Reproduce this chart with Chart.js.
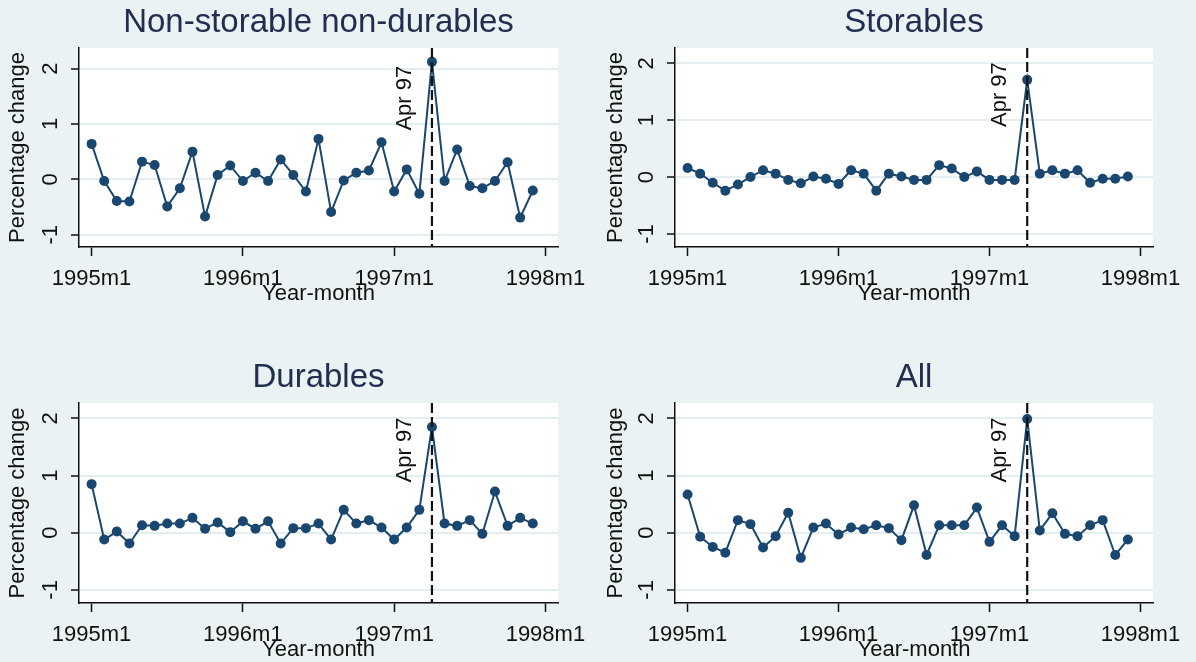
<!DOCTYPE html>
<html>
<head>
<meta charset="utf-8">
<title>Percentage change, 1995m1-1997m12</title>
<script src="https://cdn.jsdelivr.net/npm/chart.js@4.4.1/dist/chart.umd.min.js"></script>
<style>
    html, body { margin: 0; padding: 0; background: #eaf2f3; }
    #wrap { position: relative; width: 1196px; height: 662px; overflow: hidden; background: #eaf2f3; }
    #wrap canvas { position: absolute; }
</style>
</head>
<body>
<div id="wrap">
    <canvas id="chartNonStorable" width="598" height="355" style="left:0;top:0"></canvas>
    <canvas id="chartStorables" width="598" height="355" style="left:598px;top:0"></canvas>
    <canvas id="chartDurables" width="598" height="307" style="left:0;top:355px"></canvas>
    <canvas id="chartAll" width="598" height="307" style="left:598px;top:355px"></canvas>
</div>
<script>
// tick positions are month numbers counted from 1995m1
const xTickValues = [0, 12, 24, 36];
const xTickLabels = ["1995m1", "1996m1", "1997m1", "1998m1"];
const yTickValues = [-1, 0, 1, 2];
const eventMonth = 27;
const eventLabel = "Apr 97";

const nonStorable = [
    0.64, -0.03, -0.39, -0.40, 0.32, 0.26, -0.49, -0.16, 0.50, -0.67, 0.08, 0.25,
    -0.03, 0.12, -0.03, 0.36, 0.08, -0.22, 0.73, -0.59, -0.02, 0.12, 0.16, 0.67,
    -0.22, 0.18, -0.26, 2.12, -0.03, 0.54, -0.12, -0.16, -0.03, 0.31, -0.69, -0.20,
];
const storables = [
    0.16, 0.06, -0.10, -0.24, -0.13, 0.00, 0.12, 0.06, -0.05, -0.11, 0.01, -0.03,
    -0.12, 0.12, 0.06, -0.24, 0.06, 0.01, -0.05, -0.05, 0.21, 0.15, 0.00, 0.10,
    -0.05, -0.05, -0.05, 1.71, 0.06, 0.12, 0.06, 0.12, -0.10, -0.03, -0.03, 0.01,
];
const durables = [
    0.85, -0.12, 0.02, -0.19, 0.13, 0.12, 0.16, 0.16, 0.26, 0.07, 0.18, 0.01,
    0.20, 0.07, 0.20, -0.19, 0.08, 0.08, 0.16, -0.12, 0.40, 0.16, 0.22, 0.09,
    -0.12, 0.09, 0.40, 1.85, 0.16, 0.12, 0.22, -0.02, 0.72, 0.12, 0.26, 0.16,
];
const allGoods = [
    0.67, -0.07, -0.25, -0.35, 0.22, 0.15, -0.26, -0.06, 0.35, -0.44, 0.09, 0.16,
    -0.03, 0.09, 0.06, 0.13, 0.08, -0.13, 0.48, -0.39, 0.13, 0.13, 0.13, 0.44,
    -0.16, 0.13, -0.06, 1.99, 0.04, 0.34, -0.02, -0.06, 0.13, 0.22, -0.39, -0.12,
];

const FONT = "'Liberation Sans', Arial, Helvetica, sans-serif";
const NAVY = "#1a476f";

// white plot region, Apr 97 marker line and the panel title
const panelDecor = {
    id: "panelDecor",
    beforeDraw(chart) {
        const { ctx, chartArea: a } = chart;
        ctx.save();
        ctx.fillStyle = "#ffffff";
        ctx.fillRect(a.left, a.top, a.right - a.left, a.bottom - a.top);
        ctx.restore();
    },
    afterDatasetsDraw(chart) {
        const { ctx, chartArea: a, scales } = chart;
        const x = scales.x.getPixelForValue(eventMonth);
        ctx.save();
        ctx.strokeStyle = "#111111";
        ctx.lineWidth = 2.2;
        ctx.setLineDash([10, 4]);
        ctx.beginPath();
        ctx.moveTo(x, a.top);
        ctx.lineTo(x, a.bottom);
        ctx.stroke();
        ctx.setLineDash([]);

        ctx.translate(x - 21, scales.y.getPixelForValue(0.88));
        ctx.rotate(-Math.PI / 2);
        ctx.fillStyle = "#111111";
        ctx.font = "22px " + FONT;
        ctx.textAlign = "left";
        ctx.textBaseline = "alphabetic";
        ctx.fillText(eventLabel, 0, 0);
        ctx.restore();
    },
    afterDraw(chart, args, opts) {
        const { ctx, chartArea: a } = chart;
        ctx.save();
        ctx.fillStyle = "#222e50";
        ctx.font = "33px " + FONT;
        ctx.textAlign = "center";
        ctx.textBaseline = "middle";
        ctx.fillText(opts.title, (a.left + a.right) / 2, a.top - 25);
        ctx.restore();
    },
};

const getConfig = (panel) => {
    return {
        type: "line",
        data: {
            datasets: [{
                label: panel.title,
                data: panel.values.map((v, i) => ({ x: i, y: v })),
                borderColor: NAVY,
                backgroundColor: NAVY,
                borderWidth: 2,
                pointRadius: 5,
                pointBorderWidth: 0,
                pointBackgroundColor: NAVY,
                tension: 0,
            }, ],
        },
        options: {
            responsive: false,
            animation: false,
            devicePixelRatio: 1,
            layout: {
                padding: {
                    left: 0,
                    top: 48,
                    right: 598 - panel.right,
                    bottom: panel.height - panel.bottom - 58,
                },
            },
            plugins: {
                legend: { display: false },
                tooltip: { enabled: false },
                panelDecor: { title: panel.title },
            },
            scales: {
                x: {
                    type: "linear",
                    min: -1,
                    max: 37,
                    afterBuildTicks: (axis) => {
                        axis.ticks = xTickValues.map((v) => ({ value: v }));
                    },
                    afterFit: (axis) => {
                        axis.height = 58;
                    },
                    border: { color: "#111111", width: 1.5 },
                    grid: {
                        drawOnChartArea: false,
                        tickColor: "#111111",
                        tickLength: 9,
                        tickWidth: 1.5,
                    },
                    ticks: {
                        autoSkip: false,
                        maxRotation: 0,
                        padding: 10,
                        color: "#111111",
                        font: { family: FONT, size: 22 },
                        callback: (value, index) => xTickLabels[index],
                    },
                    title: {
                        display: true,
                        text: "Year-month",
                        color: "#111111",
                        font: { family: FONT, size: 22, lineHeight: 1 },
                        padding: { top: 0, bottom: 0 },
                    },
                },
                y: {
                    min: panel.yMin,
                    max: panel.yMax,
                    afterBuildTicks: (axis) => {
                        axis.ticks = yTickValues.map((v) => ({ value: v }));
                    },
                    afterFit: (axis) => {
                        axis.width = panel.left;
                    },
                    border: { color: "#111111", width: 1.5 },
                    grid: {
                        color: "#e4edef",
                        lineWidth: 2,
                        tickColor: "#111111",
                        tickLength: 8,
                        tickWidth: 1.5,
                    },
                    ticks: {
                        minRotation: 90,
                        maxRotation: 90,
                        crossAlign: "center",
                        padding: 10,
                        color: "#111111",
                        font: { family: FONT, size: 22 },
                    },
                    title: {
                        display: true,
                        text: "Percentage change",
                        color: "#111111",
                        font: { family: FONT, size: 22, lineHeight: 1 },
                        padding: { top: 7, bottom: 0 },
                    },
                },
            },
        },
        plugins: [panelDecor],
    };
};

new Chart(document.getElementById("chartNonStorable"), getConfig({
    title: "Non-storable non-durables",
    values: nonStorable,
    left: 79, right: 558, bottom: 247, height: 355,
    yMin: -1.22, yMax: 2.37,
}));
new Chart(document.getElementById("chartStorables"), getConfig({
    title: "Storables",
    values: storables,
    left: 77, right: 555, bottom: 247, height: 355,
    yMin: -1.23, yMax: 2.27,
}));
new Chart(document.getElementById("chartDurables"), getConfig({
    title: "Durables",
    values: durables,
    left: 79, right: 558, bottom: 248, height: 307,
    yMin: -1.23, yMax: 2.27,
}));
new Chart(document.getElementById("chartAll"), getConfig({
    title: "All",
    values: allGoods,
    left: 77, right: 555, bottom: 248, height: 307,
    yMin: -1.23, yMax: 2.27,
}));
</script>
</body>
</html>
